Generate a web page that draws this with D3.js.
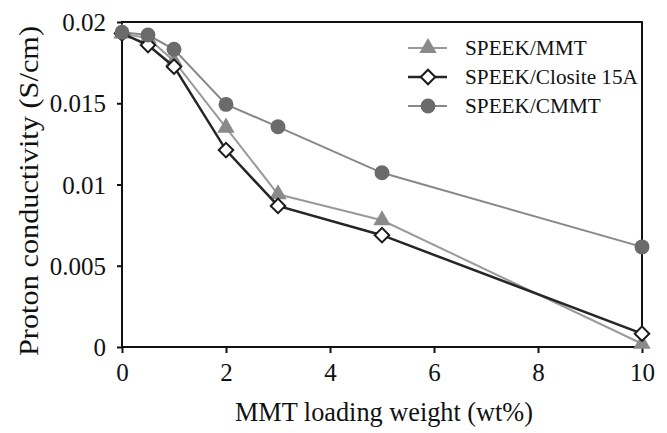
<!DOCTYPE html>
<html>
<head>
<meta charset="utf-8">
<script src="https://cdn.jsdelivr.net/npm/d3@7"></script>
<style>
  body { margin: 0; background: #fff; }
  text { fill: #111; }
</style>
</head>
<body>
<div id="chart"></div>
<script>
const loading = [0, 0.5, 1, 2, 3, 5, 10];
const mmtValues = [0.0193, 0.0190, 0.0176, 0.0135, 0.0094, 0.0078, 0.0002];
const closite15aValues = [0.0193, 0.01858, 0.01725, 0.01212, 0.00868, 0.00688, 0.00082];
const cmmtValues = [0.01937, 0.0192, 0.01832, 0.01493, 0.01355, 0.01072, 0.00616];
const xTicks = [0, 2, 4, 6, 8, 10];
const yTicks = [0, 0.005, 0.01, 0.015, 0.02];
const yTickLabels = ["0", "0.005", "0.01", "0.015", "0.02"];

const width = 667;
const height = 433;
const margin = { left: 122, right: 25, top: 22, bottom: 86 };
const serif = '"Liberation Serif", "Times New Roman", "DejaVu Serif", "Noto Serif", serif';

// font size that makes a string a given width, whatever serif we got
const ctx = document.createElement("canvas").getContext("2d");
function fitSize(str, target) {
  ctx.font = "100px " + serif;
  return 100 * target / ctx.measureText(str).width;
}
const tickSize = Math.min(25, fitSize("0.015", 60));
const legendSize = Math.min(21.5, fitSize("SPEEK/Closite 15A", 173));

const svg = d3.select("#chart")
  .append("svg")
  .attr("width", width)
  .attr("height", height)
  .style("font-family", serif);

const x = d3.scaleLinear().domain([0, 10]).range([margin.left, width - margin.right]);
const y = d3.scaleLinear().domain([0, 0.02]).range([height - margin.bottom, margin.top]);

// axes
const xAxis = svg.append("g")
  .attr("transform", `translate(0,${height - margin.bottom})`)
  .call(d3.axisBottom(x).tickValues(xTicks).tickSize(6).tickPadding(10).tickFormat(d3.format("d")));
const yAxis = svg.append("g")
  .attr("transform", `translate(${margin.left},0)`)
  .call(d3.axisLeft(y).tickValues(yTicks).tickSize(5).tickPadding(11).tickFormat((d, i) => yTickLabels[i]));

[xAxis, yAxis].forEach(function (g) {
  g.attr("font-family", null).attr("font-size", null);
  g.select(".domain").remove();
  g.selectAll("line").attr("stroke", "#111").attr("stroke-width", 2);
  g.selectAll("text").style("font-size", tickSize + "px").attr("fill", "#111");
});
xAxis.selectAll("text").attr("dy", "0.71em");
yAxis.selectAll("text").attr("dy", "0.34em");

// frame
svg.append("rect")
  .attr("x", margin.left)
  .attr("y", margin.top)
  .attr("width", width - margin.left - margin.right)
  .attr("height", height - margin.top - margin.bottom)
  .attr("fill", "none")
  .attr("stroke", "#111")
  .attr("stroke-width", 2);

const series = [
  { name: "SPEEK/MMT", values: mmtValues, line: "#9a9a9a", marker: "triangle", fill: "#8a8a8a", stroke: "none", lw: 2 },
  { name: "SPEEK/Closite 15A", values: closite15aValues, line: "#262626", marker: "diamond", fill: "#fff", stroke: "#1a1a1a", lw: 2.5 },
  { name: "SPEEK/CMMT", values: cmmtValues, line: "#888", marker: "circle", fill: "#6b6b6b", stroke: "none", lw: 2 }
];

const symbolFor = {
  triangle: d3.symbol().type(d3.symbolTriangle).size(130),
  diamond: d3.symbol().type(d3.symbolSquare).size(105),
  circle: d3.symbol().type(d3.symbolCircle).size(175)
};

const line = d3.line()
  .x((d) => x(d[0]))
  .y((d) => y(d[1]));

series.forEach(function (s) {
  const pts = loading.map((l, i) => [l, s.values[i]]);
  svg.append("path")
    .datum(pts)
    .attr("d", line)
    .attr("fill", "none")
    .attr("stroke", s.line)
    .attr("stroke-width", s.lw);
  svg.selectAll(null)
    .data(pts)
    .enter()
    .append("path")
    .attr("d", symbolFor[s.marker])
    .attr("transform", (d) => `translate(${x(d[0])},${y(d[1])})` + (s.marker === "diamond" ? " rotate(45)" : ""))
    .attr("fill", s.fill)
    .attr("stroke", s.stroke)
    .attr("stroke-width", 2);
});

// legend
const legend = svg.append("g").attr("transform", "translate(408,48)");
series.forEach(function (s, i) {
  const row = legend.append("g").attr("transform", `translate(0,${i * 29})`);
  row.append("line")
    .attr("x1", 0).attr("x2", 39)
    .attr("stroke", s.line)
    .attr("stroke-width", s.lw);
  row.append("path")
    .attr("d", symbolFor[s.marker])
    .attr("transform", "translate(20,0)" + (s.marker === "diamond" ? " rotate(45)" : ""))
    .attr("fill", s.fill)
    .attr("stroke", s.stroke)
    .attr("stroke-width", 2);
  row.append("text")
    .attr("x", 57)
    .attr("y", 7)
    .style("font-size", legendSize + "px")
    .text(s.name);
});

// axis titles
svg.append("text")
  .attr("x", (x(0) + x(10)) / 2 + 2)
  .attr("y", 421)
  .attr("text-anchor", "middle")
  .attr("textLength", 298)
  .attr("lengthAdjust", "spacingAndGlyphs")
  .style("font-size", "27px")
  .text("MMT loading weight (wt%)");

svg.append("text")
  .attr("transform", "translate(38,191) rotate(-90)")
  .attr("text-anchor", "middle")
  .attr("textLength", 330)
  .attr("lengthAdjust", "spacingAndGlyphs")
  .style("font-size", "28px")
  .text("Proton conductivity (S/cm)");
</script>
</body>
</html>
